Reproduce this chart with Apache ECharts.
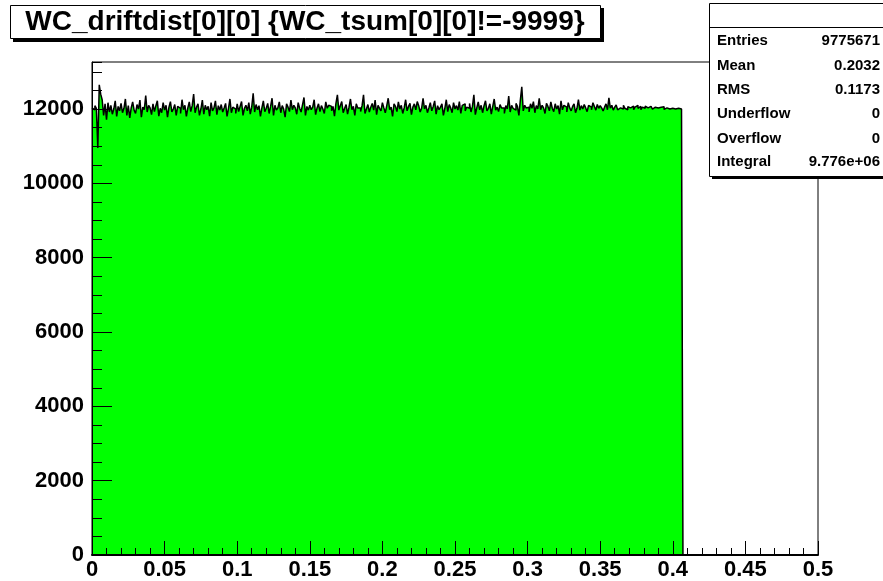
<!DOCTYPE html>
<html>
<head>
<meta charset="utf-8">
<script src="https://cdn.jsdelivr.net/npm/echarts@6/dist/echarts.min.js"></script>
<style>html,body{margin:0;padding:0;background:#fff;}#c{width:883px;height:581px;}</style>
</head>
<body>
<div id="c"></div>
<script>
// Histogram: WC_driftdist[0][0], bin width 0.001 starting at 0
var title = 'WC_driftdist[0][0] {WC_tsum[0][0]!=-9999}';
var binStart = 0;
var binWidth = 0.001;
var counts = [
12030,11980,12090,12020,10950,12650,12400,12250,11830,12140,
11710,12170,11920,12100,11860,12000,12220,11800,12070,11950,
12150,11900,12020,12270,11830,12090,11760,12030,12190,11970,
11880,12120,12000,12240,11780,12050,11980,12360,11920,12100,
12030,11850,12140,11930,12090,12220,11810,12020,11900,12170,
11970,12100,11780,12050,12200,11920,12000,12120,11830,12070,
12020,11880,12250,11980,12100,11800,12030,12190,11930,12090,
12400,11900,12050,12140,11830,12000,12240,11860,12100,11980,
12070,11810,12170,11950,12030,12220,11850,12090,11970,12120,
11920,12030,12150,11800,12020,12270,11900,12050,12000,11880,
12140,11930,12070,12200,11830,12020,12100,11950,12170,11860,
12050,12420,11920,12120,11980,12090,11800,12030,12220,11930,
12020,12150,11880,12070,12290,11830,12100,11970,12030,12190,
11900,12090,12000,11780,12140,12050,11930,12240,11980,12100,
12030,11860,12170,12020,11920,12120,12310,11830,12070,11970,
12100,11980,12050,12250,11850,12030,12140,11930,12090,12000,
11880,12190,12020,12100,12070,11950,12070,11810,12150,12380,
11970,12090,12200,11900,12020,12120,11860,12050,12270,11980,
12070,11830,12140,12030,12030,11930,12090,12380,11880,12000,
12120,11920,12050,12150,11970,12240,11850,12100,12020,11950,
12170,12030,11900,12090,12290,11980,12050,11800,12140,12070,
11930,12190,12000,12100,11880,12030,12250,11950,12070,12150,
11850,12050,12140,11980,12200,12090,11920,12020,12290,12000,
12100,11900,12030,12170,11950,12070,12220,11860,12090,11980,
12050,12140,11830,12020,12250,11930,12120,12030,11900,12170,
12000,12090,11970,12200,11880,12100,12140,11950,12050,12020,
12150,11920,12070,12380,11850,12030,12190,11980,12100,11900,
12090,12220,11950,12020,12140,11860,12070,12270,11970,12050,
11930,12120,12030,12030,11880,12090,12000,12350,11920,12100,
12020,11970,12150,12070,11830,12240,12600,11950,12100,12030,
12050,11920,12140,12020,12200,11900,12090,12000,12290,11980,
12100,12030,11880,12150,12070,11950,12190,12020,11930,12140,
12000,12090,11860,12220,11980,12100,12050,11920,12170,12030,
11950,12070,12140,11900,12020,12250,11970,12090,12000,12120,
12030,11930,12100,12050,11980,12170,12070,11970,12120,12020,
12090,12030,11950,12050,12140,11980,12300,12020,12100,11970,
12050,12110,11980,12030,12080,12000,12100,12020,11980,12060,
12030,12000,12080,11980,12050,12100,12020,12070,11980,12050,
12020,12080,12030,11980,12070,12030,12000,12050,12020,12030,
12000,12050,12020,12060,11990,12030,12050,12000,12030,12020,
12050,12000,12030,12020,12030,12000,12030
];
var xTicksMajor = 0.05, xTicksMinor = 0.01;
var yTicksMajor = 2000, yTicksMinor = 500;
var xRange = [0, 0.5];
var yRange = [0, 13265];
var statNames = ['Entries', 'Mean', 'RMS', 'Underflow', 'Overflow', 'Integral'];
var statValues = ['9775671', '0.2032', '0.1173', '0', '0', '9.776e+06'];

var pts = counts.map(function (v, i) { return [+(binStart + i * binWidth).toFixed(4), v]; });
pts.push([+(binStart + counts.length * binWidth).toFixed(4), 0]);

var FONT = 'Liberation Sans';
var chart = echarts.init(document.getElementById('c'), null, {renderer: 'canvas'});

var graphics = [];
// title box with shadow
graphics.push({type: 'rect', shape: {x: 13, y: 8, width: 591, height: 34}, style: {fill: '#000'}, z: 100});
graphics.push({type: 'rect', shape: {x: 10.5, y: 5.5, width: 590, height: 33}, style: {fill: '#fff', stroke: '#000', lineWidth: 1}, z: 101});
graphics.push({type: 'text', x: 305, y: 22, style: {text: title, font: 'bold 28px "' + FONT + '"', fill: '#000', textAlign: 'center', textVerticalAlign: 'middle'}, z: 102});
// stats box with shadow
graphics.push({type: 'rect', shape: {x: 712, y: 6, width: 180, height: 173}, style: {fill: '#000'}, z: 100});
graphics.push({type: 'rect', shape: {x: 709.5, y: 3.5, width: 180, height: 173}, style: {fill: '#fff', stroke: '#000', lineWidth: 1}, z: 101});
graphics.push({type: 'line', shape: {x1: 709.5, y1: 27.5, x2: 890, y2: 27.5}, style: {stroke: '#000', lineWidth: 1}, z: 102});
var rowY = [41, 66, 90, 114, 139, 162];
statNames.forEach(function (n, i) {
  graphics.push({type: 'text', x: 717, y: rowY[i], style: {text: n, font: 'bold 15px "' + FONT + '"', fill: '#000', textAlign: 'left', textVerticalAlign: 'middle'}, z: 102});
  graphics.push({type: 'text', x: 880, y: rowY[i], style: {text: statValues[i], font: 'bold 15px "' + FONT + '"', fill: '#000', textAlign: 'right', textVerticalAlign: 'middle'}, z: 102});
});

var labelStyle = {color: '#000', fontFamily: FONT, fontWeight: 'bold', fontSize: 22};

chart.setOption({
  animation: false,
  grid: {left: 92, right: 65, top: 62, bottom: 26, show: true, borderColor: '#000', borderWidth: 1, backgroundColor: 'transparent'},
  xAxis: [
    {type: 'value', min: xRange[0], max: xRange[1], interval: xTicksMajor, z: 10,
     axisLine: {show: true, onZero: false, lineStyle: {color: '#000', width: 2}},
     axisTick: {show: true, inside: true, length: 14, lineStyle: {color: '#000', width: 1}},
     axisLabel: Object.assign({margin: 4}, labelStyle),
     splitLine: {show: false}},
    {type: 'value', min: xRange[0], max: xRange[1], interval: xTicksMinor, position: 'bottom', z: 10,
     axisLine: {show: false},
     axisTick: {show: true, inside: true, length: 7, lineStyle: {color: '#000', width: 1}},
     axisLabel: {show: false}, splitLine: {show: false}}
  ],
  yAxis: [
    {type: 'value', min: yRange[0], max: yRange[1], interval: yTicksMajor, z: 10,
     axisLine: {show: true, onZero: false, lineStyle: {color: '#000', width: 1}},
     axisTick: {show: true, inside: true, length: 20, lineStyle: {color: '#000', width: 1}},
     axisLabel: Object.assign({margin: 8, showMaxLabel: false, formatter: function (v) { return v % yTicksMajor === 0 ? String(v) : ''; }}, labelStyle),
     splitLine: {show: false}},
    {type: 'value', min: yRange[0], max: yRange[1], interval: yTicksMinor, position: 'left', z: 10,
     axisLine: {show: false},
     axisTick: {show: true, inside: true, length: 10, lineStyle: {color: '#000', width: 1}},
     axisLabel: {show: false}, splitLine: {show: false}}
  ],
  series: [{
    type: 'line', step: 'end', data: pts, symbol: 'none', xAxisIndex: 0, yAxisIndex: 0,
    lineStyle: {color: '#000', width: 1.5},
    areaStyle: {color: '#00ff00', opacity: 1, origin: 'start'},
    z: 2
  }],
  graphic: graphics
});
</script>
</body>
</html>
